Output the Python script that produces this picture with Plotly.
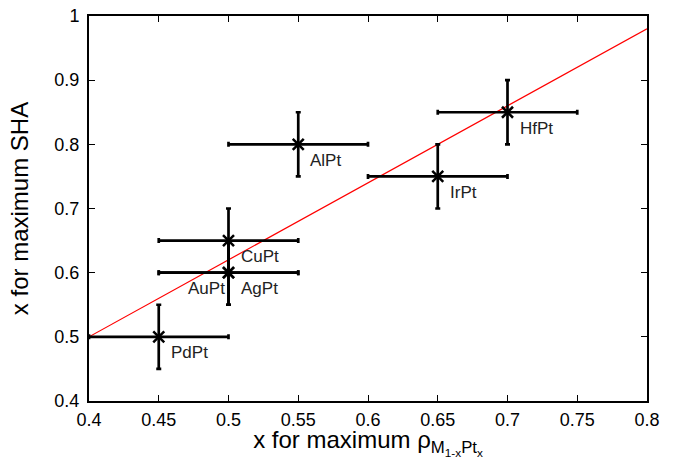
import plotly.graph_objects as go

names = ["PdPt", "AuPt", "AgPt", "CuPt", "AlPt", "IrPt", "HfPt"]
x_rho = [0.45, 0.50, 0.50, 0.50, 0.55, 0.65, 0.70]
y_sha = [0.50, 0.60, 0.60, 0.65, 0.80, 0.75, 0.85]
x_err = [0.05, 0.05, 0.05, 0.05, 0.05, 0.05, 0.05]
y_err = [0.05, 0.05, 0.05, 0.05, 0.05, 0.05, 0.05]
label_pos = ["right", "left", "right", "right", "right", "right", "right"]
fit_x = [0.4, 0.8]
fit_y = [0.50, 0.98]

FONT = "Liberation Sans, Arial, Helvetica, sans-serif"

fig = go.Figure()
fig.add_trace(go.Scatter(
    x=fit_x, y=fit_y, mode="lines",
    line=dict(color="#ff0000", width=1.2), showlegend=False, hoverinfo="skip"))
fig.add_trace(go.Scatter(
    x=x_rho, y=y_sha, mode="markers",
    marker=dict(symbol="x-thin", size=11, line=dict(color="black", width=2.5), color="black"),
    error_x=dict(type="data", array=x_err, color="black", thickness=2.7, width=2.5),
    error_y=dict(type="data", array=y_err, color="black", thickness=2.7, width=2.5),
    showlegend=False))

for n, xv, yv, pos in zip(names, x_rho, y_sha, label_pos):
    fig.add_annotation(
        x=xv, y=yv, text=n, showarrow=False,
        xanchor="left" if pos == "right" else "right", yanchor="middle",
        xshift=10 if pos == "right" else -2, yshift=-16,
        font=dict(family=FONT, size=17, color="#222"))

axis_common = dict(
    showline=True, linecolor="black", linewidth=2, mirror="ticks",
    ticks="inside", ticklen=6, tickwidth=1, tickcolor="black",
    showgrid=False, zeroline=False, automargin=False,
    tickfont=dict(family=FONT, size=18, color="black"))

fig.update_xaxes(range=[0.4, 0.8], tickvals=[0.4, 0.45, 0.5, 0.55, 0.6, 0.65, 0.7, 0.75, 0.8],
                 ticktext=["0.4", "0.45", "0.5", "0.55", "0.6", "0.65", "0.7", "0.75", "0.8"],
                 ticklabelstandoff=1,
                 title=dict(text="x for maximum ρ<sub>M<sub>1-x</sub>Pt<sub>x</sub></sub>",
                            font=dict(family=FONT, size=24, color="black"),
                            standoff=0),
                 **axis_common)
fig.update_yaxes(range=[0.4, 1.0], tickvals=[0.4, 0.5, 0.6, 0.7, 0.8, 0.9, 1.0],
                 ticktext=["0.4", "0.5", "0.6", "0.7", "0.8", "0.9", "1"],
                 ticklabelstandoff=4,
                 title=dict(text="x for maximum SHA",
                            font=dict(family=FONT, size=24, color="black"),
                            standoff=19),
                 **axis_common)

fig.update_layout(width=676, height=459, margin=dict(l=89, r=29, t=16, b=58),
                  paper_bgcolor="white", plot_bgcolor="white")
fig.write_html("out.html")
